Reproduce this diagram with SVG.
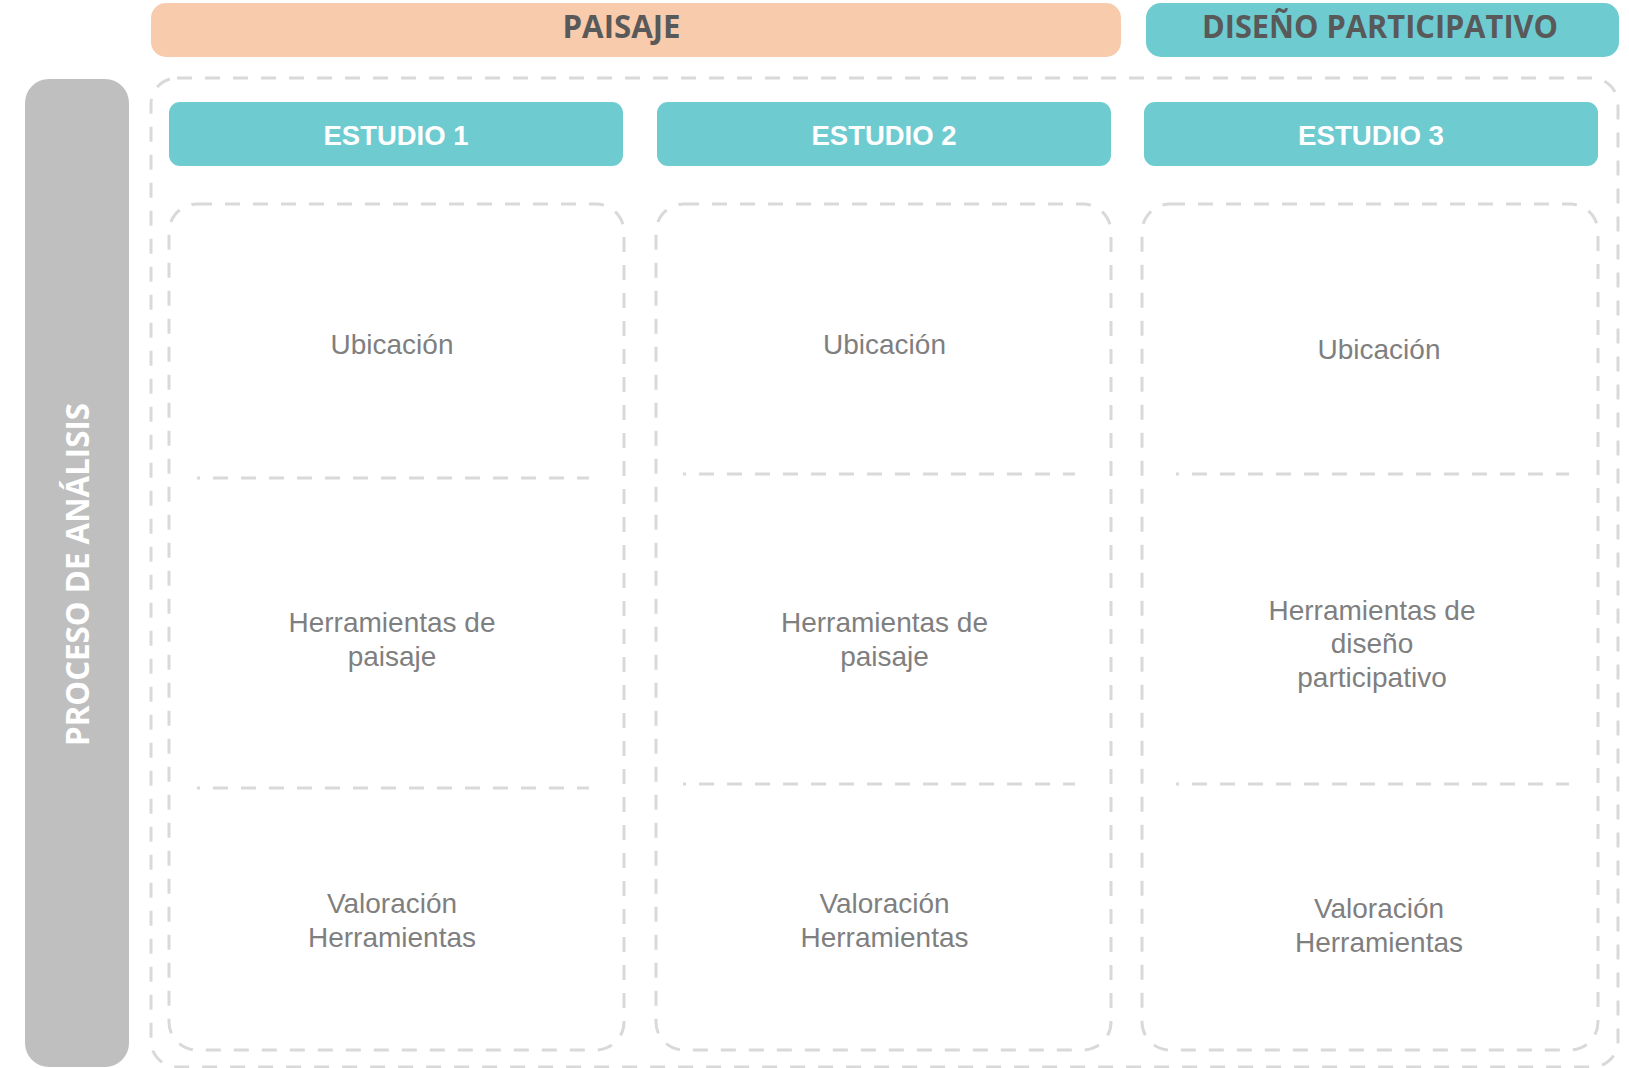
<svg xmlns="http://www.w3.org/2000/svg" width="1629" height="1068" viewBox="0 0 1629 1068">
<style>
.dash{fill:none;stroke:#D9D9D9;stroke-width:3;stroke-dasharray:15 13}
.sep{stroke-dashoffset:12}
.head{font-family:"Open Sans","Noto Sans",sans-serif;font-weight:700;font-size:32px;fill:#595959;text-anchor:middle}
.est{fill:#6ECBD0}
.estt{font-family:"Liberation Sans",Arial,sans-serif;font-weight:700;font-size:28px;fill:#FFFFFF;text-anchor:middle}
.body{font-family:"Liberation Sans",Arial,sans-serif;font-size:28px;fill:#7F7F7F;text-anchor:middle}
.side{font-family:"Open Sans","Noto Sans",sans-serif;font-weight:700;font-size:32px;fill:#FFFFFF;text-anchor:middle}
</style>
<rect width="1629" height="1068" fill="#FFFFFF"/>

<g id="paisaje">
<rect x="151" y="3" width="970" height="54" rx="15" fill="#F8CBAD"/>
<text class="head" x="621.5" y="38" textLength="118" lengthAdjust="spacingAndGlyphs">PAISAJE</text>
</g>

<g id="diseno-participativo">
<rect x="1146" y="3" width="473" height="54" rx="15" fill="#6ECBD0"/>
<text class="head" x="1380" y="38" textLength="356" lengthAdjust="spacingAndGlyphs">DISEÑO PARTICIPATIVO</text>
</g>

<g id="proceso-analisis">
<rect x="25" y="79" width="104" height="988" rx="24" fill="#BFBFBF"/>
<text class="side" transform="translate(88.5,574.5) rotate(-90)" x="0" y="0" textLength="343" lengthAdjust="spacingAndGlyphs">PROCESO DE ANÁLISIS</text>
</g>

<g id="marco">
<rect class="dash" x="151" y="78" width="1467" height="989" rx="26"/>
</g>

<g id="estudio1">
<rect class="est" x="169" y="102" width="454" height="64" rx="11"/>
<text class="estt" x="396" y="145" textLength="145" lengthAdjust="spacingAndGlyphs">ESTUDIO 1</text>
<rect class="dash" x="169" y="204" width="455" height="846" rx="28"/>
<text class="body" x="392" y="354">Ubicación</text>
<text class="body" x="392" y="632">Herramientas de</text>
<text class="body" x="392" y="666">paisaje</text>
<text class="body" x="392" y="913">Valoración</text>
<text class="body" x="392" y="947">Herramientas</text>
</g>

<g id="estudio2">
<rect class="est" x="657" y="102" width="454" height="64" rx="11"/>
<text class="estt" x="884" y="145" textLength="145" lengthAdjust="spacingAndGlyphs">ESTUDIO 2</text>
<rect class="dash" x="656" y="204" width="455" height="846" rx="28"/>
<text class="body" x="884.5" y="354">Ubicación</text>
<text class="body" x="884.5" y="632">Herramientas de</text>
<text class="body" x="884.5" y="666">paisaje</text>
<text class="body" x="884.5" y="913">Valoración</text>
<text class="body" x="884.5" y="947">Herramientas</text>
</g>

<g id="estudio3">
<rect class="est" x="1144" y="102" width="454" height="64" rx="11"/>
<text class="estt" x="1371" y="145" textLength="146" lengthAdjust="spacingAndGlyphs">ESTUDIO 3</text>
<rect class="dash" x="1142" y="204" width="456" height="846" rx="28"/>
<text class="body" x="1379" y="359">Ubicación</text>
<text class="body" x="1372" y="620">Herramientas de</text>
<text class="body" x="1372" y="653">diseño</text>
<text class="body" x="1372" y="687">participativo</text>
<text class="body" x="1379" y="918">Valoración</text>
<text class="body" x="1379" y="952">Herramientas</text>
</g>

<g id="separadores">
<line class="dash sep" x1="197" y1="478" x2="589" y2="478"/>
<line class="dash sep" x1="197" y1="788" x2="589" y2="788"/>
<line class="dash sep" x1="683" y1="474" x2="1075" y2="474"/>
<line class="dash sep" x1="683" y1="784" x2="1075" y2="784"/>
<line class="dash sep" x1="1176" y1="474" x2="1569" y2="474"/>
<line class="dash sep" x1="1176" y1="784" x2="1569" y2="784"/>
</g>
</svg>
